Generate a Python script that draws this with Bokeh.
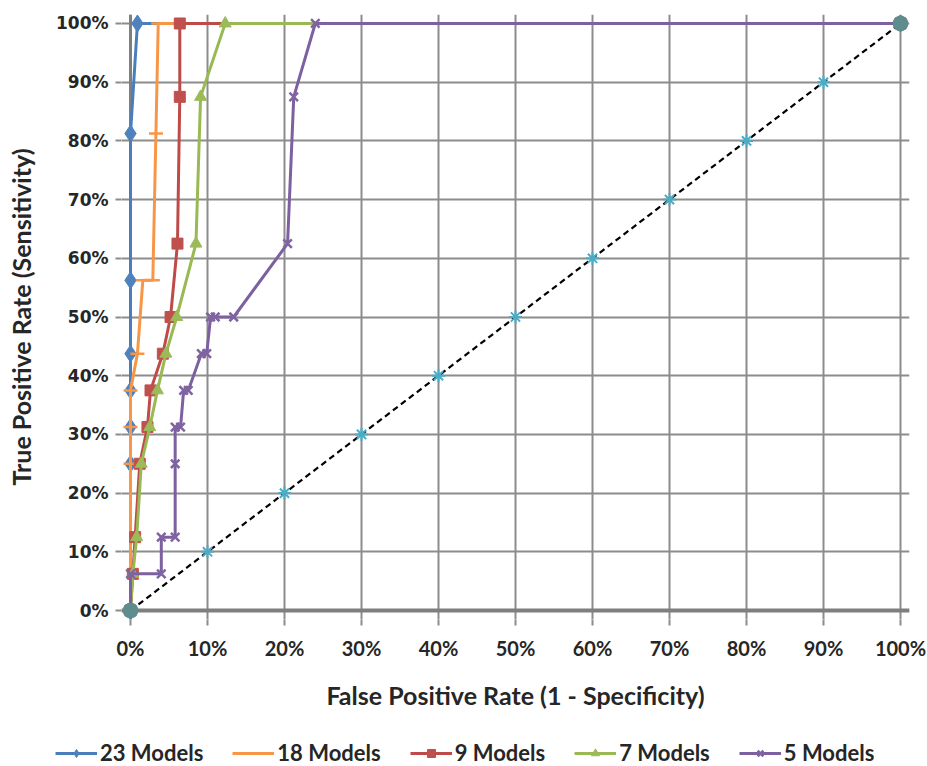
from bokeh.plotting import figure
from bokeh.models import Range1d, FixedTicker, NumeralTickFormatter, Span, Legend, LegendItem
from bokeh.embed import file_html
from bokeh.resources import INLINE

# ---- data (fractions) ----
ticks = [0.0, 0.1, 0.2, 0.3, 0.4, 0.5, 0.6, 0.7, 0.8, 0.9, 1.0]

fpr_23 = [0, 0, 0, 0, 0, 0, 0, 0.009, 1.0]
tpr_23 = [0, 0.25, 0.3125, 0.375, 0.4375, 0.5625, 0.8125, 1.0, 1.0]

fpr_18 = [0, 0, 0, 0, 0.009, 0.016, 0.029, 0.033, 0.036, 1.0]
tpr_18 = [0, 0.25, 0.3125, 0.375, 0.4375, 0.5625, 0.5625, 0.8125, 1.0, 1.0]

fpr_9 = [0, 0.003, 0.006, 0.012, 0.022, 0.026, 0.042, 0.052, 0.061, 0.064, 0.064, 1.0]
tpr_9 = [0, 0.0625, 0.125, 0.25, 0.3125, 0.375, 0.4375, 0.5, 0.625, 0.875, 1.0, 1.0]

fpr_7 = [0, 0.003, 0.008, 0.014, 0.025, 0.035, 0.046, 0.060, 0.085, 0.091, 0.123, 1.0]
tpr_7 = [0, 0.0625, 0.125, 0.25, 0.3125, 0.375, 0.4375, 0.5, 0.625, 0.875, 1.0, 1.0]

fpr_5 = [0, 0, 0.04, 0.04, 0.058, 0.058, 0.058, 0.065, 0.069, 0.075, 0.092, 0.099,
         0.104, 0.11, 0.134, 0.204, 0.212, 0.24, 1.0]
tpr_5 = [0, 0.0625, 0.0625, 0.125, 0.125, 0.25, 0.3125, 0.3125, 0.375, 0.375, 0.4375, 0.4375,
         0.5, 0.5, 0.5, 0.625, 0.875, 1.0, 1.0]

diag = [0.0, 0.1, 0.2, 0.3, 0.4, 0.5, 0.6, 0.7, 0.8, 0.9, 1.0]

series = [
    ("23 Models", fpr_23, tpr_23, "#4a7ebb", "#4f81bd", "diamond", 17),
    ("18 Models", fpr_18, tpr_18, "#f79646", "#f79646", "dash", 14),
    ("9 Models", fpr_9, tpr_9, "#be4b48", "#c0504d", "square", 11),
    ("7 Models", fpr_7, tpr_7, "#98b954", "#9bbb59", "triangle", 12),
    ("5 Models", fpr_5, tpr_5, "#7d60a0", "#8064a2", "x", 12),
]

TXT = "#262626"

p = figure(width=927, height=740,
           x_range=Range1d(-0.0117, 1.0117), y_range=Range1d(-0.0153, 1.0153),
           output_backend="svg", toolbar_location=None,
           min_border_left=121, min_border_right=18, min_border_top=14, min_border_bottom=121)
p.outline_line_color = None
p.background_fill_color = "white"

for ax in (p.xaxis[0], p.yaxis[0]):
    ax.ticker = FixedTicker(ticks=ticks)
    ax.formatter = NumeralTickFormatter(format="0%")
    ax.axis_line_color = None
    ax.major_tick_line_color = "#8c8c8c"
    ax.major_tick_line_width = 2
    ax.major_tick_in = 0
    ax.major_tick_out = 6
    ax.minor_tick_line_color = None
    ax.major_label_text_color = TXT
    ax.axis_label_text_color = TXT
    ax.axis_label_text_font = "Lato"
    ax.axis_label_text_font_style = "bold"
    ax.axis_label_text_font_size = "25px"

p.xaxis[0].major_label_text_font = "Lato"
p.xaxis[0].major_label_text_font_style = "bold"
p.xaxis[0].major_label_text_font_size = "20px"
p.xaxis[0].major_label_standoff = 10
p.xaxis[0].axis_label = "False Positive Rate (1 - Specificity)"
p.xaxis[0].axis_label_standoff = 17

p.yaxis[0].major_label_text_font = "DejaVu Sans"
p.yaxis[0].major_label_text_font_style = "bold"
p.yaxis[0].major_label_text_font_size = "17px"
p.yaxis[0].major_label_standoff = 7
p.yaxis[0].axis_label = "True Positive Rate (Sensitivity)"
p.yaxis[0].axis_label_standoff = 17

for g in (p.xgrid[0], p.ygrid[0]):
    g.ticker = FixedTicker(ticks=ticks)
    g.grid_line_color = "#8c8c8c"
    g.grid_line_width = 2

p.add_layout(Span(location=0, dimension="width", line_color="#7f7f7f", line_width=4, level="underlay"))
p.add_layout(Span(location=0, dimension="height", line_color="#7f7f7f", line_width=3, level="underlay"))

# diagonal reference
p.line(diag, diag, line_color="black", line_width=2.2, line_dash="6 4")
p.scatter(diag[1:-1], diag[1:-1], marker="asterisk", size=13, line_color="#4bacc6", line_width=2)


def add_series(fig, xs, ys, lc, mc, mk, sz):
    lr = fig.line(xs, ys, line_color=lc, line_width=3)
    if mk in ("dash", "x"):
        sr = fig.scatter(xs, ys, marker=mk, size=sz, line_color=mc, line_width=2.5)
    else:
        sr = fig.scatter(xs, ys, marker=mk, size=sz, fill_color=mc, line_color=mc, line_width=1)
    return lr, sr


for label, xs, ys, lc, mc, mk, sz in series:
    add_series(p, xs, ys, lc, mc, mk, sz)

p.scatter([diag[0], diag[-1]], [diag[0], diag[-1]], marker="circle", size=15,
          fill_color="#5f8c8e", line_color="#5f8c8e")

# ---- legend strip below the chart (a second root, so its frame is not aligned) ----
lf = figure(width=927, height=26, x_range=Range1d(5, 6), y_range=Range1d(5, 6),
            output_backend="svg", toolbar_location=None,
            x_axis_location=None, y_axis_location=None,
            min_border_left=0, min_border_right=0, min_border_top=0, min_border_bottom=0)
lf.grid.visible = False
lf.outline_line_color = None

items = []
for label, xs, ys, lc, mc, mk, sz in series:
    lr, sr = add_series(lf, xs, ys, lc, mc, mk, sz)
    items.append(LegendItem(label=label, renderers=[lr, sr]))

legend = Legend(items=items, orientation="horizontal", location=(55, 0),
                glyph_width=42, glyph_height=20, label_standoff=3, spacing=29,
                padding=0, margin=0, border_line_color=None, background_fill_alpha=0,
                label_text_font="Lato", label_text_font_style="bold",
                label_text_font_size="22px", label_text_color=TXT)
lf.add_layout(legend)

open("out.html", "w").write(file_html([p, lf], INLINE))
